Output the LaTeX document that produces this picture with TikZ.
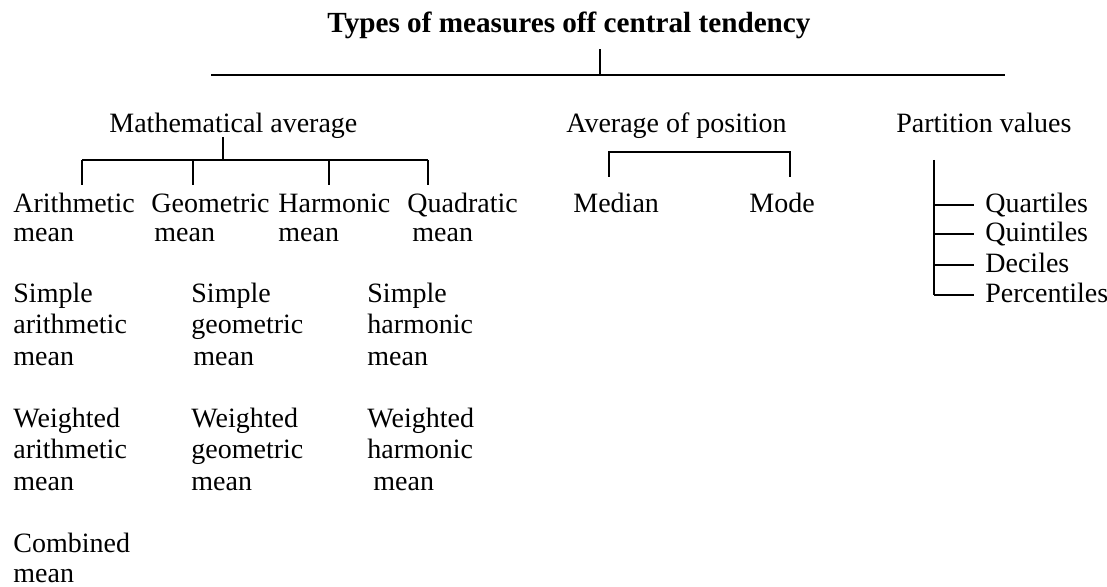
\documentclass[tikz,border=0pt]{standalone}
\usepackage{fontspec}
\setmainfont{Liberation Serif}

\begin{document}
\begin{tikzpicture}[x=0.5pt, y=-0.5pt,
    lbl/.style={anchor=base west, inner sep=0pt, align=left,
                font=\fontsize{14}{14.6}\selectfont},
    lbltall/.style={lbl, font=\fontsize{14}{15.6}\selectfont},
    bar/.style={line width=0.7pt}]
    \useasboundingbox (0,0) rectangle (1107,587);

    % --- 定义参数 ---
    \def\rowA{213}    % Arithmetic / Median / Quartiles 基线
    \def\rowB{242}    % 第二行 mean 的基线 (多行节点的 base 在最后一行)
    \def\barM{160}    % Mathematical average 横线
    \def\dropM{185}   % 竖线下端

    % --- 标题和顶部横线 ---
    \node[anchor=base, inner sep=0pt, font=\fontsize{14.6}{16}\selectfont\bfseries]
        (title) at (569,33) {Types of measures off central tendency};
    \coordinate (topL) at (211,75);
    \coordinate (topR) at (1005,75);
    \coordinate (topJ) at (600,75);
    \draw[bar] (topL) -- (topR);
    \draw[bar] (topJ) -- ++(0,-26);

    % --- 三个分类 ---
    \node[lbl] (math) at (109,133) {Mathematical average};
    \node[lbl] (pos)  at (566,133) {Average of position};
    \node[lbl] (part) at (896,133) {Partition values};

    % --- Mathematical average 分支 ---
    \coordinate (mathJ) at (223,\barM);
    \draw[bar] (mathJ) -- ++(0,-23);
    \draw[bar] (82,\barM) -- (428,\barM);
    \foreach \x in {82,193,329,428}
        \draw[bar] (\x,\barM) -- (\x,\dropM);

    \node[lbl] (arith) at (13,\rowB)  {Arithmetic\\mean};
    \node[lbl] (geom)  at (151,\rowB) {Geometric\\\hspace*{1.5pt}mean};
    \node[lbl] (harm)  at (278,\rowB) {Harmonic\\mean};
    \node[lbl] (quad)  at (407,\rowB) {Quadratic\\\hspace*{2.5pt}mean};

    % Simple / Weighted / Combined
    \node[lbltall] (sam) at (13,365)  {Simple\\arithmetic\\mean};
    \node[lbltall] (sgm) at (191,365) {Simple\\geometric\\\hspace*{1pt}mean};
    \node[lbltall] (shm) at (367,365) {Simple\\harmonic\\mean};
    \node[lbltall] (wam) at (13,490)  {Weighted\\arithmetic\\mean};
    \node[lbltall] (wgm) at (191,490) {Weighted\\geometric\\mean};
    \node[lbltall] (whm) at (367,490) {Weighted\\harmonic\\\hspace*{3pt}mean};
    \node[lbl] (cm)  at (13,582)  {Combined\\mean};

    % --- Average of position 分支 ---
    \coordinate (posL) at (609,152);
    \coordinate (posR) at (790,152);
    \draw[bar] (posL) ++(0,25) -- (posL) -- (posR) -- ++(0,25);
    \node[lbl] (med)  at (573,\rowA) {Median};
    \node[lbl] (mode) at (749,\rowA) {Mode};

    % --- Partition values 分支 ---
    \coordinate (spine) at (934,160);
    \foreach \n/\t/\yb in {quart/Quartiles/213, quint/Quintiles/242,
                           dec/Deciles/273, perc/Percentiles/303}{
        \node[lbl] (\n) at (985,\yb) {\t};
        \path (\n.base west) ++(-5.5pt,4pt) coordinate (\n-tip);
        \draw[bar] (\n-tip -| spine) -- (\n-tip);
    }
    \draw[bar] (spine) -- (spine |- perc-tip);

\end{tikzpicture}
\end{document}
